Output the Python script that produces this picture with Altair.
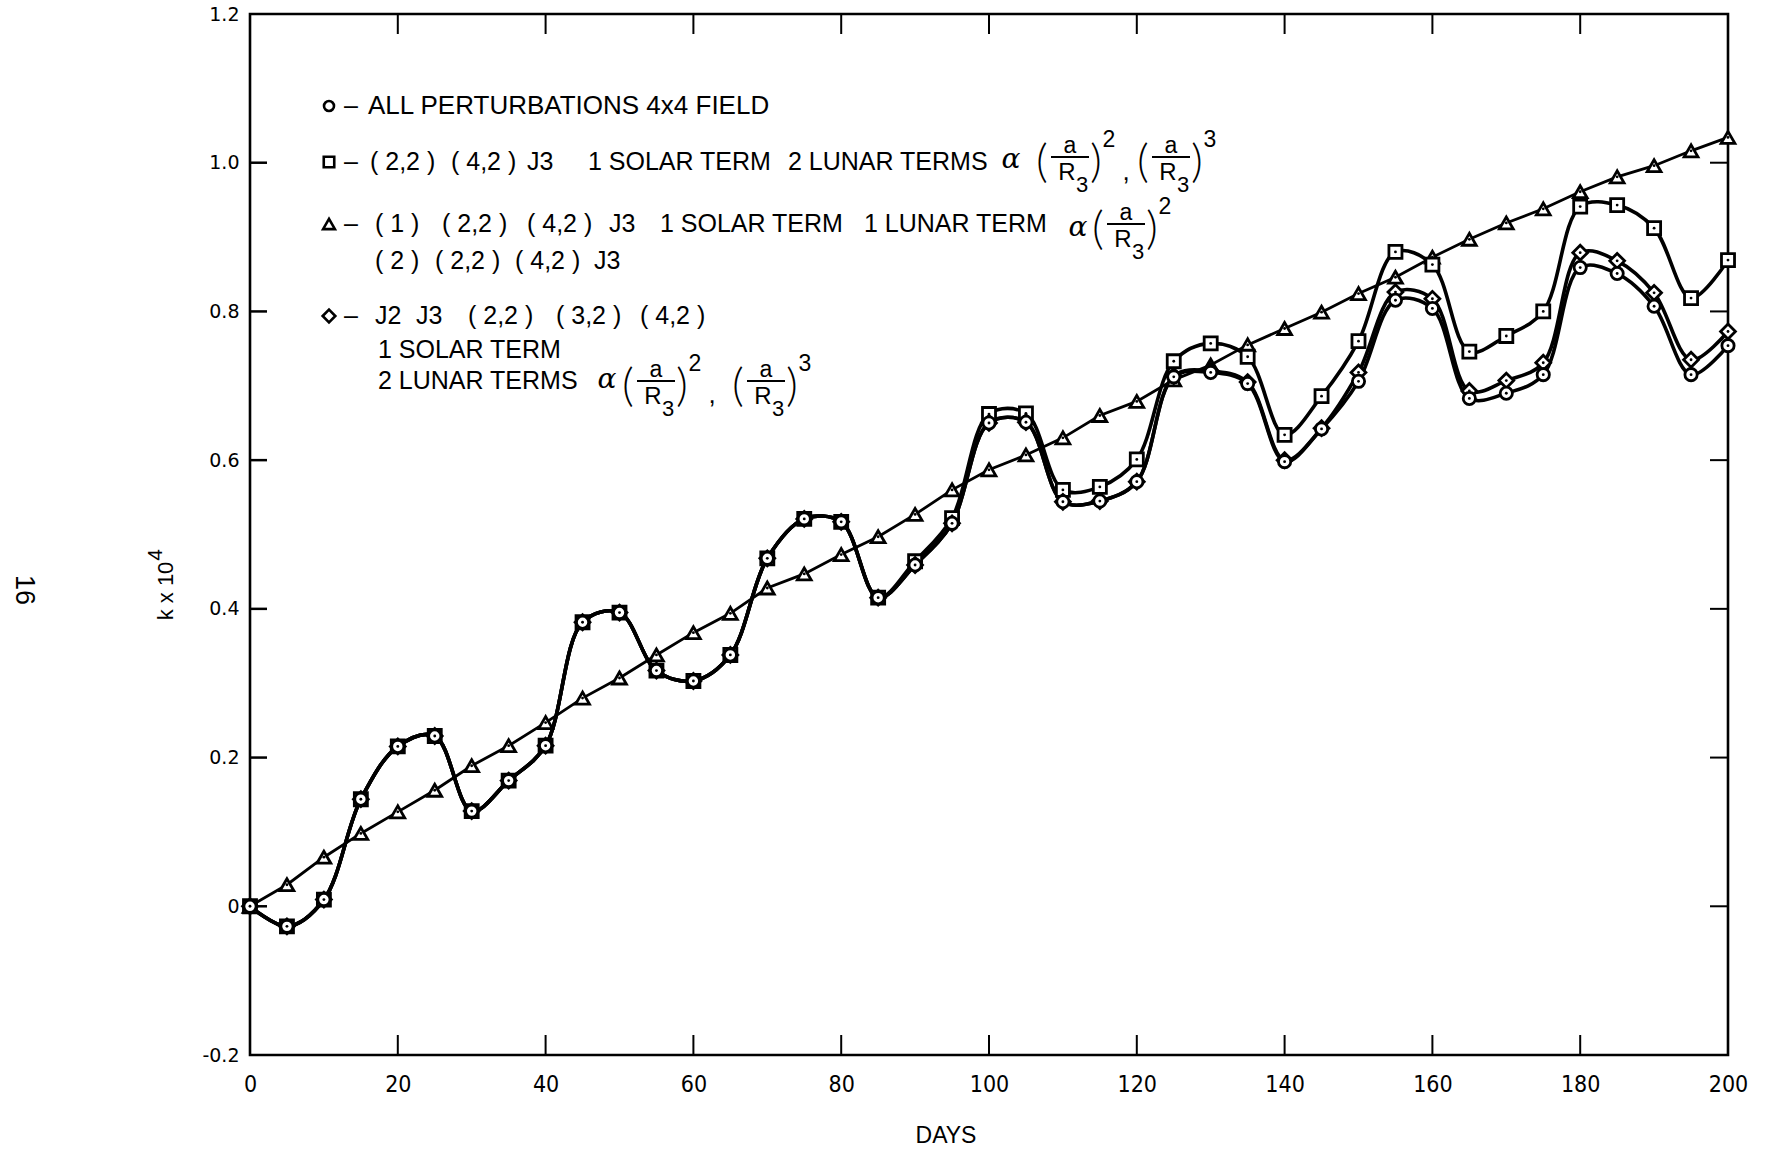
import altair as alt
import pandas as pd

# ---------------- data ----------------
days = list(range(0, 201, 5))

all_pert = [0.000, -0.027, 0.009, 0.144, 0.215, 0.229, 0.128, 0.169, 0.216, 0.382,
            0.395, 0.317, 0.303, 0.338, 0.468, 0.521, 0.517, 0.415, 0.459, 0.515,
            0.650, 0.651, 0.544, 0.545, 0.571, 0.712, 0.718, 0.703, 0.598, 0.642,
            0.706, 0.815, 0.804, 0.683, 0.690, 0.715, 0.859, 0.851, 0.807, 0.715,
            0.754]

sq_series = [0.000, -0.027, 0.009, 0.144, 0.215, 0.229, 0.128, 0.169, 0.216, 0.382,
             0.395, 0.317, 0.303, 0.338, 0.468, 0.521, 0.517, 0.415, 0.464, 0.522,
             0.662, 0.663, 0.560, 0.564, 0.601, 0.733, 0.757, 0.739, 0.634, 0.686,
             0.760, 0.880, 0.863, 0.746, 0.767, 0.800, 0.941, 0.943, 0.912, 0.818,
             0.869]

tri_series = [0.000, 0.029, 0.066, 0.098, 0.127, 0.156, 0.189, 0.216, 0.247, 0.280,
              0.307, 0.338, 0.368, 0.394, 0.428, 0.447, 0.473, 0.497, 0.527, 0.560,
              0.587, 0.607, 0.630, 0.660, 0.679, 0.708, 0.728, 0.755, 0.777, 0.799,
              0.824, 0.846, 0.873, 0.897, 0.919, 0.938, 0.961, 0.981, 0.996, 1.016,
              1.034]

dia_series = [0.000, -0.027, 0.009, 0.144, 0.215, 0.229, 0.128, 0.169, 0.216, 0.382,
              0.395, 0.317, 0.303, 0.338, 0.468, 0.521, 0.517, 0.415, 0.459, 0.515,
              0.650, 0.651, 0.544, 0.545, 0.571, 0.713, 0.720, 0.705, 0.600, 0.643,
              0.718, 0.826, 0.817, 0.693, 0.707, 0.731, 0.879, 0.868, 0.825, 0.735,
              0.773]

x_ticks = list(range(0, 201, 20))
y_ticks = [-0.2, 0.0, 0.2, 0.4, 0.6, 0.8, 1.0, 1.2]
inner_x_ticks = list(range(20, 181, 20))
inner_y_ticks = [0.0, 0.2, 0.4, 0.6, 0.8, 1.0]

# ---------------- layout ----------------
W, H = 1478, 1041
OX, OY = 250, 14  # plot origin inside the page

FONT = "Liberation Sans"
NARROW = "Liberation Sans Narrow, DejaVu Sans Condensed, Liberation Sans"

xs = alt.Scale(domain=[0, 200], nice=False, zero=False)
ys = alt.Scale(domain=[-0.2, 1.2], nice=False, zero=False)

xaxis = alt.Axis(
    values=x_ticks, ticks=False, tickSize=0, domain=False, grid=False, title=None,
    labelFont=NARROW, labelFontSize=23, labelColor="black", labelPadding=18,
    labelFlush=False, labelOverlap=False)
yaxis = alt.Axis(
    values=y_ticks, ticks=False, tickSize=0, domain=False, grid=False, title=None,
    labelFont="DejaVu Sans", labelFontSize=19, labelColor="black", labelPadding=11,
    labelFlush=False, labelOverlap=False,
    labelExpr="datum.value == 0 ? '0' : (datum.value < 0 ? '-' + format(-datum.value, '.1f') : format(datum.value, '.1f'))")


def X(field):
    return alt.X(field, scale=xs, axis=xaxis)


def Y(field):
    return alt.Y(field, scale=ys, axis=yaxis)


def series_df(vals):
    return pd.DataFrame({"day": days, "k": vals})


def line_layer(vals, interp, sw):
    return alt.Chart(series_df(vals)).mark_line(
        color="black", strokeWidth=sw, interpolate=interp
    ).encode(x=X("day:Q"), y=Y("k:Q"))


def point_layer(vals, shape, size):
    base = alt.Chart(series_df(vals)).encode(x=X("day:Q"), y=Y("k:Q"))
    pts = base.mark_point(shape=shape, size=size, filled=True, fill="white",
                          stroke="black", strokeWidth=2.8, opacity=1)
    dots = base.mark_point(shape="circle", size=8, filled=True, color="black", opacity=1)
    return pts + dots


# inward tick marks on all four sides
xt = pd.DataFrame({"day": inner_x_ticks})
yt = pd.DataFrame({"k": inner_y_ticks})
tick_bottom = alt.Chart(xt).mark_rule(color="black", strokeWidth=2).encode(
    x=X("day:Q"), y=alt.value(H), y2=alt.value(H - 20))
tick_top = alt.Chart(xt).mark_rule(color="black", strokeWidth=2).encode(
    x=X("day:Q"), y=alt.value(0), y2=alt.value(20))
tick_left = alt.Chart(yt).mark_rule(color="black", strokeWidth=2.5).encode(
    y=Y("k:Q"), x=alt.value(0), x2=alt.value(17))
tick_right = alt.Chart(yt).mark_rule(color="black", strokeWidth=2).encode(
    y=Y("k:Q"), x=alt.value(W), x2=alt.value(W - 18))


# ---------------- text annotations (page pixel positions) ----------------
def texts(rows, **kw):
    df = pd.DataFrame(rows, columns=["t", "px", "py", "fs"])
    df["px"] = df["px"] - OX
    df["py"] = df["py"] - OY
    return alt.Chart(df).mark_text(color="black", **kw).encode(
        x=alt.X("px:Q", scale=None, axis=None),
        y=alt.Y("py:Q", scale=None, axis=None),
        text="t:N",
        size=alt.Size("fs:Q", scale=None, legend=None),
    )


LS = 25
legend_left = [
    ("–", 344, 106, LS), ("ALL PERTURBATIONS 4x4 FIELD", 368, 106, 26),
    ("–", 344, 162, LS), ("( 2,2 )", 370, 162, LS), ("( 4,2 )", 451, 162, LS),
    ("J3", 527, 162, LS), ("1 SOLAR TERM", 588, 162, LS), ("2 LUNAR TERMS", 788, 162, LS),
    ("–", 344, 224, LS), ("( 1 )", 375, 224, LS), ("( 2,2 )", 442, 224, LS),
    ("( 4,2 )", 527, 224, LS), ("J3", 609, 224, LS), ("1 SOLAR TERM", 660, 224, LS),
    ("1 LUNAR TERM", 864, 224, LS),
    ("( 2 )", 375, 261, LS), ("( 2,2 )", 435, 261, LS), ("( 4,2 )", 515, 261, LS),
    ("J3", 594, 261, LS),
    ("–", 344, 316, LS), ("J2", 375, 316, LS), ("J3", 416, 316, LS),
    ("( 2,2 )", 468, 316, LS), ("( 3,2 )", 556, 316, LS), ("( 4,2 )", 640, 316, LS),
    ("1 SOLAR TERM", 378, 350, LS),
    ("2 LUNAR TERMS", 378, 381, LS),
]

alphas = [("α", 1011, 160, 28), ("α", 1078, 228, 28), ("α", 607, 380, 28)]


def frac_pieces(cx, cy, sup):
    """Pieces of (a / R3)^sup centred on the fraction bar at (cx, cy)."""
    return [
        ("a", cx, cy - 11, 23),
        ("R", cx - 3, cy + 16, 24),
        ("3", cx + 12, cy + 28, 22),
        (sup, cx + 39, cy - 17, 23),
    ]


def paren_pieces(cx, cy):
    return [("(", cx - 28, cy + 6, 46), (")", cx + 26, cy + 6, 46)]


frac_centres = [(1070, 157, "2"), (1171, 157, "3"), (1126, 224, "2"),
                (656, 381, "2"), (766, 381, "3")]

math_pieces = [(",", 1126, 172, 26), (",", 712, 395, 26)]
paren_list = []
for cx, cy, sup in frac_centres:
    math_pieces += frac_pieces(cx, cy, sup)
    paren_list += paren_pieces(cx, cy)

bars_df = pd.DataFrame({
    "x1": [1051, 1152, 1107, 637, 747],
    "x2": [1089, 1190, 1145, 675, 785],
    "y": [157, 157, 224, 381, 381],
})
bars_df["x1"] -= OX
bars_df["x2"] -= OX
bars_df["y"] -= OY
frac_bars = alt.Chart(bars_df).mark_rule(color="black", strokeWidth=1.8).encode(
    x=alt.X("x1:Q", scale=None, axis=None), x2="x2:Q",
    y=alt.Y("y:Q", scale=None, axis=None))

leg_marks_df = pd.DataFrame({
    "px": [329 - OX] * 4,
    "py": [106 - OY, 162 - OY, 224 - OY, 316 - OY],
    "s": ["circle", "square", "triangle-up", "diamond"],
    "sz": [100, 110, 140, 160],
})
leg_marks = alt.Chart(leg_marks_df).mark_point(
    filled=True, fill="white", stroke="black", strokeWidth=2.6, opacity=1
).encode(
    x=alt.X("px:Q", scale=None, axis=None),
    y=alt.Y("py:Q", scale=None, axis=None),
    shape=alt.Shape("s:N", scale=None, legend=None),
    size=alt.Size("sz:Q", scale=None, legend=None),
)

y_title = texts([("k x 10", 166, 591, 22)], font=FONT, angle=270,
                align="center", baseline="middle")
y_title_sup = texts([("4", 156, 555, 21)], font=FONT, angle=270,
                    align="center", baseline="middle")
page_no = texts([("16", 24, 590, 27)], font=FONT, angle=90,
                align="center", baseline="middle")
x_title = texts([("DAYS", 946, 1136, 23)], font=FONT, align="center", baseline="middle")

legend_text = texts(legend_left, font=FONT, align="left", baseline="middle")
alpha_text = texts(alphas, font="DejaVu Serif", fontStyle="italic",
                   align="center", baseline="middle")
math_text = texts(math_pieces, font=FONT, align="center", baseline="middle")
paren_text = texts(paren_list, font="Lato, Liberation Sans", fontWeight=300,
                   align="center", baseline="middle")

chart = alt.layer(
    tick_bottom, tick_top, tick_left, tick_right,
    line_layer(tri_series, "linear", 2.8),
    line_layer(sq_series, "catmull-rom", 3.6),
    line_layer(dia_series, "catmull-rom", 3.6),
    line_layer(all_pert, "catmull-rom", 3.6),
    point_layer(tri_series, "triangle-up", 190),
    point_layer(sq_series, "square", 170),
    point_layer(dia_series, "diamond", 220),
    point_layer(all_pert, "circle", 150),
    leg_marks, legend_text, alpha_text, math_text, paren_text, frac_bars,
    y_title, y_title_sup, page_no, x_title,
).properties(
    width=W, height=H,
    autosize=alt.AutoSizeParams(type="none"),
    padding={"left": OX, "top": OY, "right": 1765 - OX - W, "bottom": 1151 - OY - H},
    background="white",
).configure_view(
    stroke="black", strokeWidth=2.6
)

chart.save("out.html", embed_options={"renderer": "svg", "actions": False})
